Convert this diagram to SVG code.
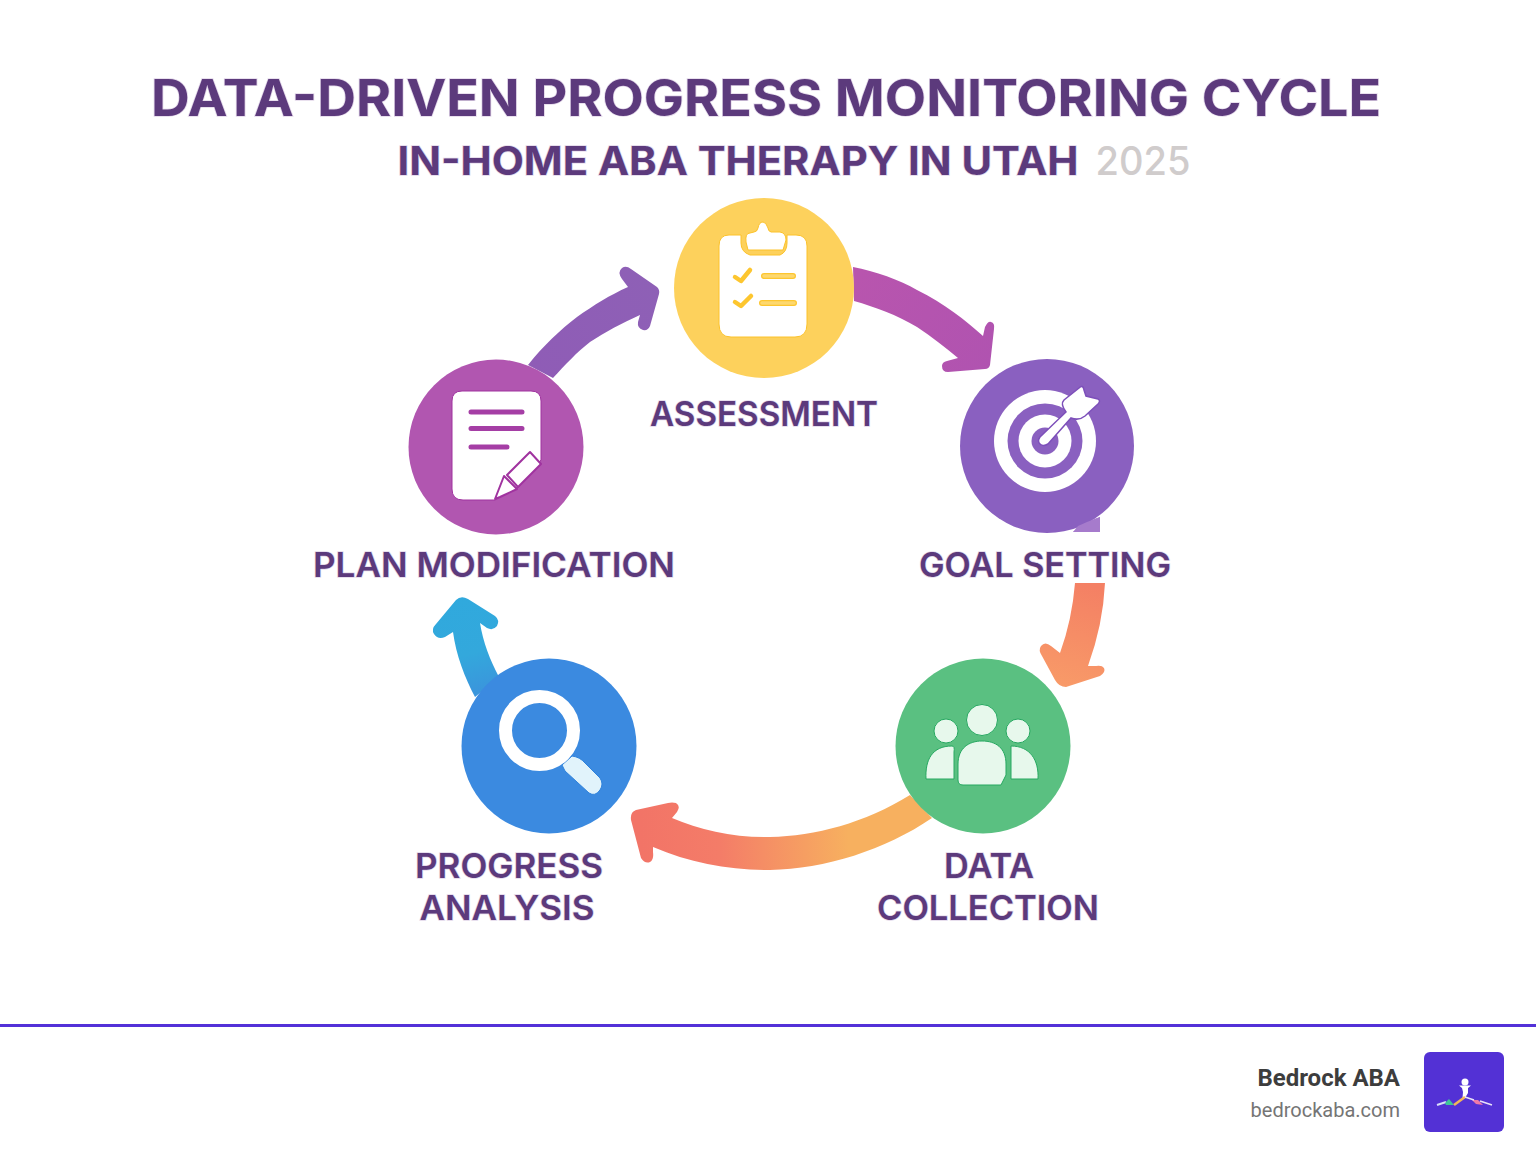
<svg xmlns="http://www.w3.org/2000/svg" width="1536" height="1154" viewBox="0 0 1536 1154">
<defs>
<linearGradient id="g1" gradientUnits="userSpaceOnUse" x1="855" y1="280" x2="990" y2="365"><stop offset="0" stop-color="#b855ae"/><stop offset="1" stop-color="#b053b0"/></linearGradient>
<linearGradient id="g2" gradientUnits="userSpaceOnUse" x1="1090" y1="585" x2="1060" y2="685"><stop offset="0" stop-color="#f48064"/><stop offset="1" stop-color="#f89a68"/></linearGradient>
<linearGradient id="g3" gradientUnits="userSpaceOnUse" x1="900" y1="820" x2="640" y2="830"><stop offset="0.2" stop-color="#f7b05f"/><stop offset="0.7" stop-color="#f47c68"/><stop offset="1" stop-color="#f27467"/></linearGradient>
<linearGradient id="g4" gradientUnits="userSpaceOnUse" x1="480" y1="690" x2="455" y2="600"><stop offset="0" stop-color="#3a96dc"/><stop offset="0.4" stop-color="#33a8dc"/><stop offset="1" stop-color="#30a9dd"/></linearGradient>
<linearGradient id="g5" gradientUnits="userSpaceOnUse" x1="530" y1="370" x2="660" y2="290"><stop offset="0" stop-color="#8f5cb6"/><stop offset="1" stop-color="#8e60b6"/></linearGradient>
</defs>
<style>
.title{font-family:Inter,"Noto Sans","Liberation Sans",sans-serif;font-weight:700;fill:#5c3a7c;stroke:#e3d8ea;stroke-width:1.500;paint-order:stroke;text-anchor:middle}
.lab{font-family:Inter,"Noto Sans","Liberation Sans",sans-serif;font-weight:600;font-size:34px;fill:#5c3a7c;stroke:#e3d8ea;stroke-width:1.500;paint-order:stroke;text-anchor:middle}
.w{fill:#fff}
</style>
<rect width="1536" height="1154" fill="#fff"/>
<g id="title">
<text class="title" x="766" y="116" font-size="51" textLength="1230" lengthAdjust="spacingAndGlyphs">DATA-DRIVEN PROGRESS MONITORING CYCLE</text>
<text class="title" x="738" y="175" font-size="39" textLength="681" lengthAdjust="spacingAndGlyphs">IN-HOME ABA THERAPY IN UTAH</text>
<text x="1143" y="175" font-family="Inter,Noto Sans,sans-serif" font-size="39" font-weight="500" fill="#d0cccc" text-anchor="middle" textLength="95" lengthAdjust="spacingAndGlyphs">2025</text>
</g>
<g id="connectors">
<path fill="url(#g1)" d="M853 267C875 271 900 280 917 290C945 304 965 320 983 336L985 327Q988 321 991 322Q995 323 994 329L990 365Q989 369 985 369L948 372Q942 372 942 366Q942 362 947 361L958 358C945 347 932 337 917 327C897 315 875 307 854 301Z"/>
<path fill="url(#g2)" d="M1075 583Q1072 620 1060 653L1051 646Q1045 641 1041 646Q1038 650 1042 656L1055 680Q1059 687 1066 687L1100 676Q1106 672 1104 668Q1102 665 1096 666L1088 666Q1103 625 1105 583Z"/>
<path fill="url(#g3)" d="M910 795C865 823 815 836 770 837C735 838 700 830 672 818L677 812Q681 806 676 803Q672 802 668 803L636 810Q630 812 631 820L641 858Q645 864 650 862Q654 860 653 852L653 847C690 863 730 870 770 870C825 869 885 850 932 818Z"/>
<path fill="url(#g4)" d="M475 697C465 678 456 655 453 632L445 637Q438 640 434 634Q431 629 436 624L456 600Q461 595 468 599L495 616Q500 620 497 626Q493 631 487 628L480 623C483 642 490 660 499 677Z"/>
<path fill="url(#g5)" d="M528 365C543 346 560 330 577 317C594 305 610 295 628 287L622 279Q617 272 622 268Q626 265 631 269L657 287Q660 290 659 294L650 326Q648 331 643 330Q637 328 638 322L640 315C622 323 605 332 590 342C577 352 565 365 553 378Z"/>
</g>
<g id="assessment">
<circle cx="764" cy="288" r="90" fill="#fdd15c"/>
<path class="w" stroke="#fcc22a" stroke-width="1" d="M729 235H741V243Q741 252 750 255H780Q787 252 787 243V235H796Q807 235 807 246V324Q807 337 795 337H731Q719 337 719 324V246Q719 235 729 235Z"/>
<path class="w" stroke="#fcc22a" stroke-width="1" d="M750 233Q745 233 746 242L748 250H783L786 240Q786 233 780 232H771Q768 231 768 228Q766 222 763 222Q759 222 758 228Q757 232 754 232Z"/>
<g fill="none" stroke-linecap="round" stroke-linejoin="round" stroke="#fdc62f">
<path stroke-width="4.500" d="M735 277L741 281L750 270M735 302L741 306L751 296"/>
<path stroke-width="6" d="M764 276H793M762 303H794"/>
<path stroke-width="3.500" stroke="#fdd86f" d="M764 276H793M762 303H794"/>
</g>
</g>
<text id="label-assessment" class="lab" x="764" y="426" textLength="228" lengthAdjust="spacingAndGlyphs">ASSESSMENT</text>
<g id="goal-setting">
<path d="M1073 532L1087 522L1100 517V532Z" fill="#a67bcc"/>
<circle cx="1047" cy="446" r="87" fill="#8a60c0"/>
<path d="M1078 526L1087 522L1100 517V532H1073Z" fill="#a67bcc"/>
<circle cx="1045" cy="441" r="51" fill="#fff"/>
<circle cx="1045" cy="441" r="37.500" fill="#8a60c0"/>
<circle cx="1045" cy="441" r="26.500" fill="#fff"/>
<circle cx="1045" cy="441" r="13.500" fill="#8a60c0"/>
<path class="w" stroke="#7d4fba" stroke-width="1.500" d="M1040 437L1066 412Q1060 404 1064 400L1079 388Q1083 384 1084 390L1086 396L1098 399Q1101 401 1098 404L1085 416Q1079 421 1071 418L1048 444Q1043 447 1040 444Q1037 441 1040 437Z"/>
</g>
<text id="label-goal-setting" class="lab" x="1045" y="577" textLength="252" lengthAdjust="spacingAndGlyphs">GOAL SETTING</text>
<g id="data-collection">
<circle cx="983" cy="746" r="87.500" fill="#5ac081"/>
<g fill="#e7f8ec" stroke="#26a860" stroke-width="1">
<circle cx="982" cy="720" r="15.500"/><circle cx="946" cy="731" r="12"/><circle cx="1018" cy="731" r="12"/>
<path d="M926 779C925 760 932 746 952 746Q955 746 954 752V779Z"/>
<path d="M1011 746C1030 746 1039 760 1038 779H1011Z"/>
<path d="M958 764C958 748 969 741 982 741C996 741 1006 748 1006 764V775L1001 785H963Q958 785 958 780Z"/>
</g>
</g>
<g id="label-data-collection"><text class="lab" x="989" y="878" textLength="90" lengthAdjust="spacingAndGlyphs">DATA</text><text class="lab" x="988" y="920" textLength="222" lengthAdjust="spacingAndGlyphs">COLLECTION</text></g>
<g id="progress-analysis">
<circle cx="549" cy="746" r="87.500" fill="#3b8ae0"/>
<path d="M562 765L572 756Q580 757 585 763L600 778Q604 784 600 790Q595 797 589 793L565 771Z" fill="#e1f3fb" stroke="#2e82dc"/>
<circle cx="539.500" cy="730.500" r="34" fill="none" stroke="#fff" stroke-width="13"/>
</g>
<g id="label-progress-analysis"><text class="lab" x="509" y="878" textLength="188" lengthAdjust="spacingAndGlyphs">PROGRESS</text><text class="lab" x="507" y="920" textLength="175" lengthAdjust="spacingAndGlyphs">ANALYSIS</text></g>
<g id="plan-modification">
<circle cx="496" cy="447" r="87.500" fill="#b156b0"/>
<path class="w" stroke="#a0339f" stroke-width="1" d="M462 391H531Q541 391 541 401V460L518 487L495 500H463Q452 500 452 489V401Q452 391 462 391Z"/>
<g stroke="#a53ea5" stroke-width="5" stroke-linecap="round"><path d="M471 412H522M471 428.500H522M471 447H507"/></g>
<path class="w" stroke="#a0339f" stroke-width="2" stroke-linejoin="round" d="M530 452L541 464L518 487L507 475Z"/>
<path class="w" stroke="#a0339f" stroke-width="2" stroke-linejoin="round" d="M504 476L517 489L500 497L495 499Z"/>
</g>
<text id="label-plan-modification" class="lab" x="494" y="577" textLength="362" lengthAdjust="spacingAndGlyphs">PLAN MODIFICATION</text>
<path id="rule" d="M0 1025.500H1536" stroke="#5331d8" stroke-width="3" fill="none"/>
<g id="footer">
<text x="1400" y="1086" text-anchor="end" font-family="Roboto,sans-serif" font-weight="700" font-size="24" fill="#3d3d3d">Bedrock ABA</text>
<text x="1400" y="1117" text-anchor="end" font-family="Roboto,sans-serif" font-size="20" fill="#757575">bedrockaba.com</text>
<rect x="1424" y="1052" width="80" height="80" rx="6" fill="#5331d5"/>
<circle cx="1465" cy="1082" r="3.500" fill="#fff"/>
<path d="M1459 1085.500H1471L1468 1088V1093L1465 1098H1462.500L1463 1092L1462 1088Z" fill="#fff"/>
<path d="M1437 1105L1446 1102" stroke="#d8e0f8" stroke-width="2" fill="none"/>
<path d="M1445 1103L1449 1099L1454 1105H1446Z" fill="#3fc59a"/>
<path d="M1454 1105L1465 1097" stroke="#f2b558" stroke-width="2.500" fill="none"/>
<path d="M1472 1100L1478 1100L1483 1105L1476 1104Z" fill="#ee7aa8"/>
<path d="M1465 1097L1474 1100M1480 1101L1492 1105" stroke="#e8e2f8" stroke-width="1.500" fill="none"/>
</g>
</svg>
